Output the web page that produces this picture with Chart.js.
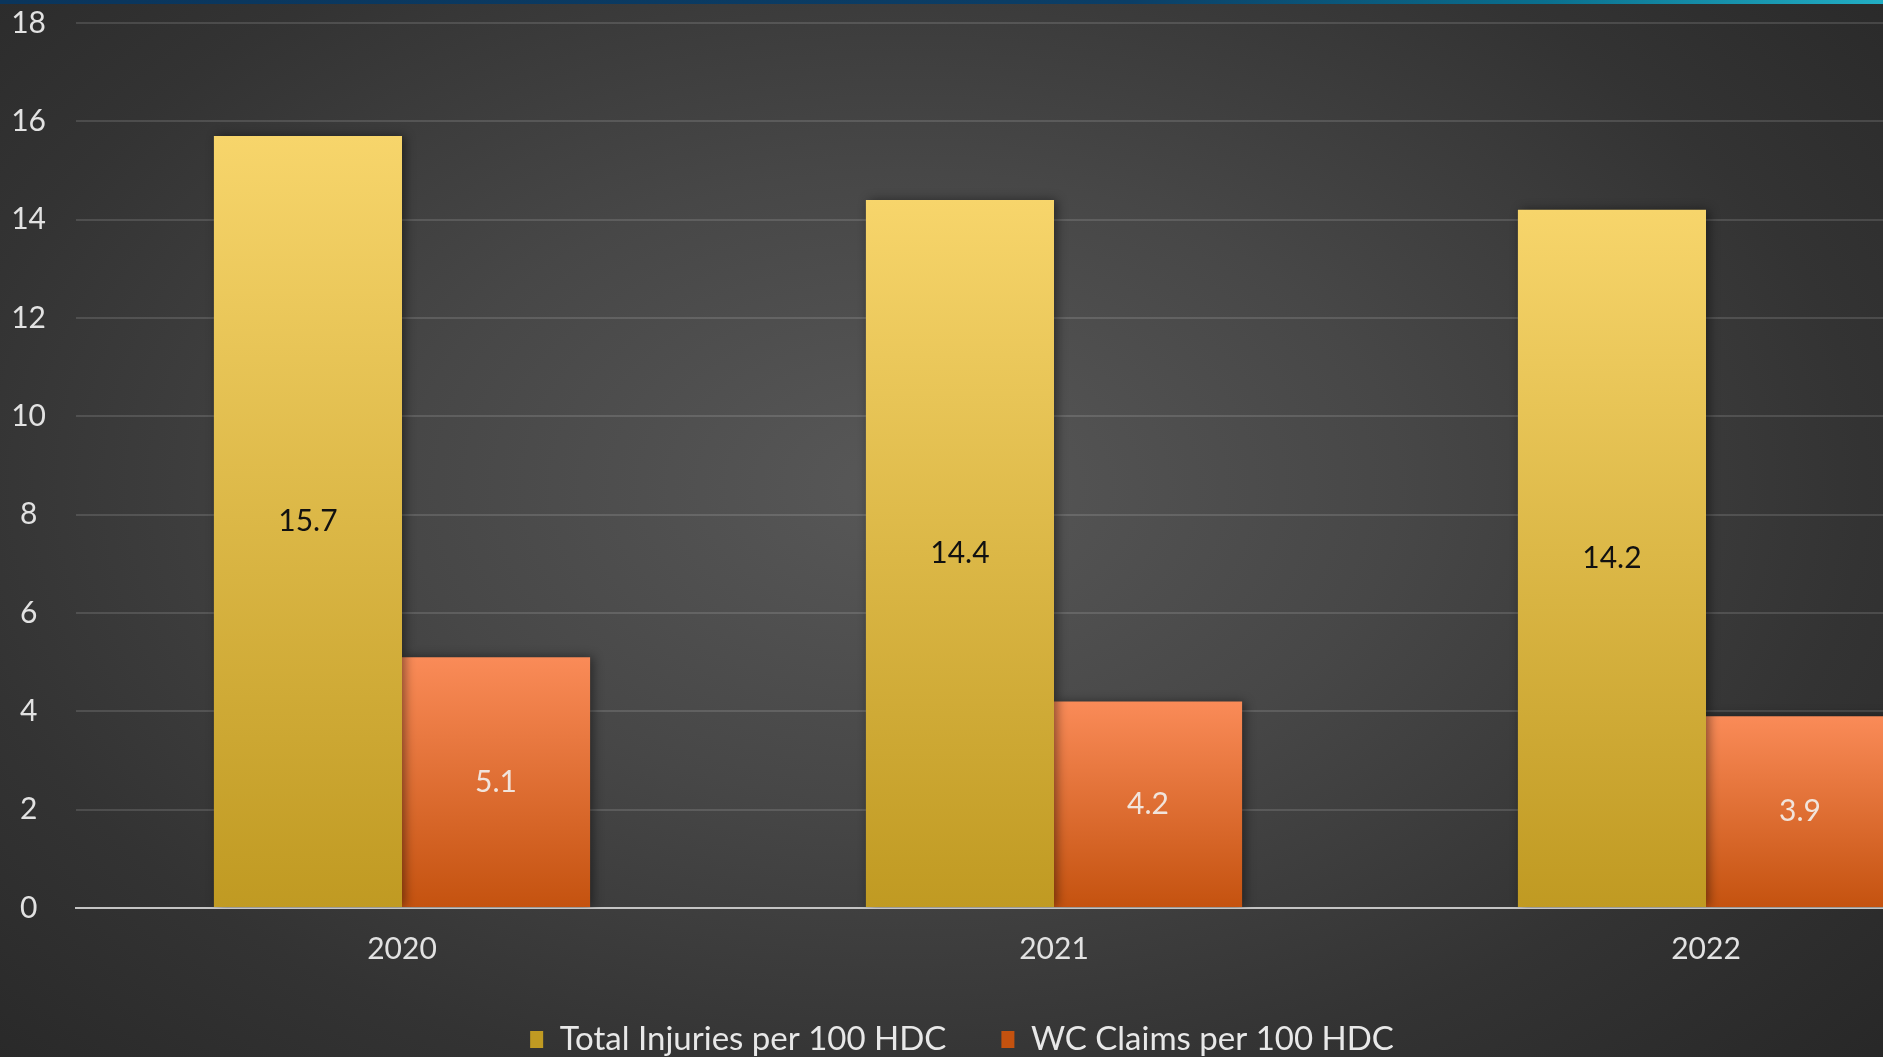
<!DOCTYPE html>
<html>
<head>
<meta charset="utf-8">
<script src="https://cdn.jsdelivr.net/npm/chart.js@4.4.1/dist/chart.umd.min.js"></script>
<style>
    html, body {
        margin: 0;
        width: 1883px;
        height: 1057px;
        overflow: hidden;
    }
    body {
        position: relative;
        background: radial-gradient(ellipse 75% 85% at 48% 46%, #585858 0%, #474747 35%, #333333 68%, #252525 100%);
    }
    .faixa {
        position: absolute;
        top: 0;
        left: 0;
        width: 100%;
        height: 4px;
        background: linear-gradient(to right, #0a355c 0%, #0b3e66 60%, #0a6f8e 82%, #22aec4 100%);
        z-index: 2;
    }
    #grafico-box {
        position: absolute;
        left: 0;
        top: 0;
        width: 2032px;
        height: 1066px;
    }
</style>
</head>
<body>
<div class="faixa"></div>
<div id="grafico-box"><canvas id="graficoLesoes"></canvas></div>
<script>
// dados por ano
const anos = ["2020", "2021", "2022"];
const totalLesoes = [15.7, 14.4, 14.2];
const reclamacoesWC = [5.1, 4.2, 3.9];
const ticksY = [0, 2, 4, 6, 8, 10, 12, 14, 16, 18];

const fonte = "Lato, 'Open Sans', sans-serif";

// degradê vertical por barra, do topo da barra até o zero
function degradeBarra(topo, base, meio) {
    return function (context) {
        const chart = context.chart;
        if (!chart.chartArea || !context.parsed) return meio;
        const y = chart.scales.y;
        const y0 = y.getPixelForValue(0);
        const y1 = y.getPixelForValue(context.parsed.y);
        const g = chart.ctx.createLinearGradient(0, y1, 0, y0);
        g.addColorStop(0, topo);
        g.addColorStop(1, base);
        return g;
    };
}

// sombra leve atrás das barras
const sombraBarras = {
    id: "sombraBarras",
    beforeDatasetsDraw(chart) {
        const ctx = chart.ctx;
        ctx.save();
        ctx.shadowColor = "rgba(0, 0, 0, 0.45)";
        ctx.shadowBlur = 10;
        ctx.shadowOffsetX = 3;
        ctx.shadowOffsetY = 0;
    },
    afterDatasetsDraw(chart) {
        chart.ctx.restore();
    },
};

// valores escritos no meio de cada barra
const rotulos = {
    id: "rotulos",
    afterDatasetsDraw(chart) {
        const ctx = chart.ctx;
        ctx.save();
        ctx.font = "30px " + fonte;
        ctx.textAlign = "center";
        ctx.textBaseline = "middle";
        chart.data.datasets.forEach((ds, i) => {
            ctx.fillStyle = ds.corRotulo;
            chart.getDatasetMeta(i).data.forEach((barra, j) => {
                ctx.fillText(ds.data[j].toFixed(1), barra.x, (barra.y + barra.base) / 2);
            });
        });
        ctx.restore();
    },
};

// legenda um pouco à esquerda do centro do canvas
const ajusteLegenda = {
    id: "ajusteLegenda",
    afterLayout(chart) {
        const lg = chart.legend;
        lg.left -= 54;
        lg.right -= 54;
    },
};

const ctx = document.getElementById("graficoLesoes");
new Chart(ctx, {
    type: "bar",
    data: {
        labels: anos,
        datasets: [
            {
                label: "Total Injuries per 100 HDC",
                data: totalLesoes,
                backgroundColor: degradeBarra("#f7d56b", "#c09a22", "#dcb43c"),
                borderWidth: 0,
                corRotulo: "#111111",
            },
            {
                label: "WC Claims per 100 HDC",
                data: reclamacoesWC,
                backgroundColor: degradeBarra("#fa8b58", "#c4520f", "#e06a2c"),
                borderWidth: 0,
                corRotulo: "#f1e4dc",
            },
        ],
    },
    options: {
        responsive: true,
        maintainAspectRatio: false,
        animation: false,
        datasets: {
            bar: { categoryPercentage: 0.577, barPercentage: 1 },
        },
        layout: { padding: { top: 0, left: 0, right: 0, bottom: 0 } },
        plugins: {
            tooltip: { enabled: false },
            legend: {
                position: "bottom",
                labels: {
                    color: "#e8e8e8",
                    font: { family: fonte, size: 33 },
                    boxWidth: 13,
                    boxHeight: 17,
                    padding: 55,
                },
            },
        },
        scales: {
            x: {
                afterFit(scale) {
                    scale.height = 60;
                },
                grid: { display: false, drawTicks: false },
                border: { display: true, color: "#c4c4c4", width: 2 },
                ticks: {
                    color: "#e2e2e2",
                    font: { family: fonte, size: 30 },
                    padding: 23,
                },
            },
            y: {
                min: 0,
                max: 18,
                afterBuildTicks(scale) {
                    scale.ticks = ticksY.map((v) => ({ value: v }));
                },
                afterFit(scale) {
                    scale.width = 76;
                    scale.paddingTop = 23;
                },
                grid: {
                    color: "rgba(255, 255, 255, 0.13)",
                    lineWidth: 2,
                    drawTicks: false,
                },
                border: { display: false },
                ticks: {
                    color: "#e2e2e2",
                    font: { family: fonte, size: 30 },
                    crossAlign: "center",
                    padding: 30,
                },
            },
        },
    },
    plugins: [sombraBarras, rotulos, ajusteLegenda],
});
</script>
</body>
</html>
